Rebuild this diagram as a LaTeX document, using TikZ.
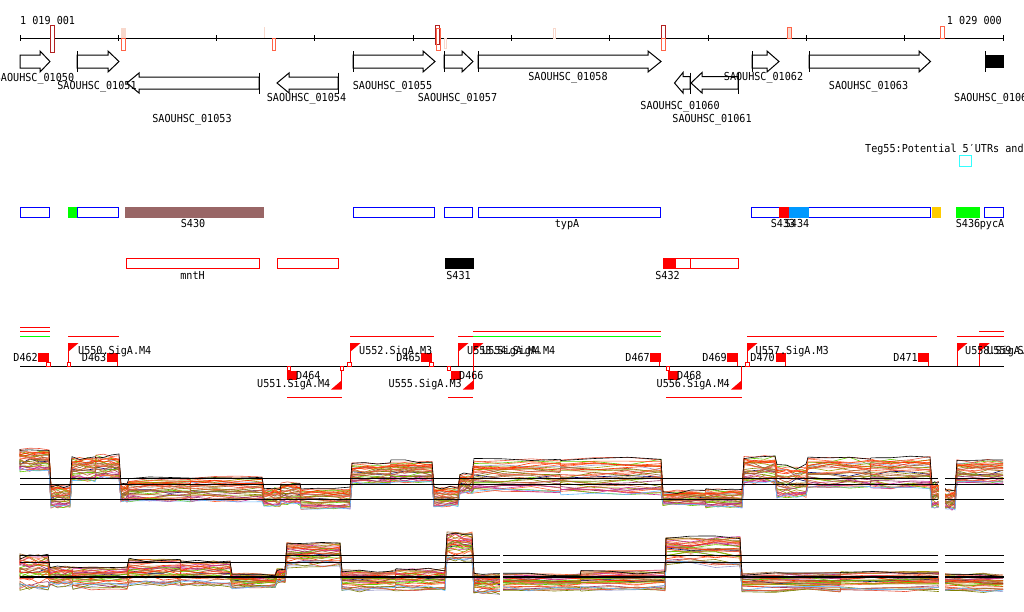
\documentclass[tikz,border=0pt]{standalone}
\usepackage{fontspec}
\setmonofont[FakeStretch=0.92]{DejaVu Sans Mono}
\usetikzlibrary{positioning}
\definecolor{darkred}{HTML}{B22222}
\definecolor{tomato}{HTML}{FF6347}
\definecolor{palepink}{HTML}{F8D8CC}
\definecolor{srnabrown}{HTML}{996666}
\definecolor{srnablue}{HTML}{0099FF}
\definecolor{srnaamber}{HTML}{FFCC00}
\definecolor{srnagreen}{HTML}{00FF00}
\definecolor{tegcyan}{HTML}{33FFFF}
\definecolor{lightblue}{HTML}{66BBFF}
\definecolor{tr1}{HTML}{FF6633}
\definecolor{tr2}{HTML}{999900}
\definecolor{tr3}{HTML}{996633}
\definecolor{tr4}{HTML}{66CC00}
\definecolor{tr5}{HTML}{CC3399}
\definecolor{tr6}{HTML}{000066}
\definecolor{tr7}{HTML}{9999CC}
\definecolor{tr8}{HTML}{E9573F}
\definecolor{tr9}{HTML}{CC6633}
\definecolor{tr10}{HTML}{808000}
\definecolor{tr11}{HTML}{993366}
\definecolor{tr12}{HTML}{FF3300}
\tikzset{
  lbl/.style={font=\ttfamily\fontsize{11}{13}\selectfont, inner sep=0pt},
  genebox/.style={draw=black, fill=white, line width=1pt},
  sbox/.style={draw=blue, fill=white, line width=1pt},
  rbox/.style={draw=red, fill=white, line width=1pt},
  redline/.style={draw=red, line width=1pt},
  termbox/.style={fill=red},
  tsshole/.style={draw=red, fill=white, line width=0.8pt},
  levelline/.style={draw=black, line width=1.2pt}
}
% segments of the two expression panels: x0/x1/top/bottom
\def\panelA{20/49/449/471, 51/70/485/507, 72/95/457/481, 96/119/455/479, 121/127/484/501, 129/190/478/501, 191/262/477/501, 264/280/488/506, 281/300/483/504, 301/350/488/509, 352/390/463/484, 391/432/461/482, 434/458/487/506, 460/472/474/493, 474/560/459/492, 561/661/458/494, 663/705/491/505, 706/742/489/507, 744/775/456/483, 777/806/465/497, 808/870/458/488, 871/930/457/488, 932/940/482/507, 946/955/490/509, 957/1003/460/483}
\def\panelB{20/48/555/591, 50/72/567/587, 73/127/567/589, 129/180/559/587, 181/230/561/587, 232/275/574/588, 277/285/569/583, 287/340/543/567, 342/395/571/591, 396/445/569/591, 447/472/533/562, 474/500/574/594, 503/580/574/591, 581/665/571/591, 666/740/537/567, 742/840/573/592, 841/938/572/591, 945/1003/574/592}
\newcommand{\exprtrace}[5]{%
  \draw[#1, line width=0.6pt] (20,{#3+#2*(#4-#3)})
    \foreach \xa/\xb/\ytop/\ybot in #5 {
      -- (\xa,{\ytop+(\ybot-\ytop)*min(1,max(0,#2+0.1*rand))+1.2*rand})
      -- ({\xa+(\xb-\xa)/3},{\ytop+(\ybot-\ytop)*min(1,max(0,#2+0.1*rand))+1.2*rand})
      -- ({\xa+2*(\xb-\xa)/3},{\ytop+(\ybot-\ytop)*min(1,max(0,#2+0.1*rand))+1.2*rand})
      -- (\xb,{\ytop+(\ybot-\ytop)*min(1,max(0,#2+0.1*rand))+1.2*rand})
    };}

\begin{document}
\begin{tikzpicture}[x=1pt, y=-1pt]
\useasboundingbox (0,0) rectangle (1024,611);
\clip (0,0) rectangle (1024,611);

% Ruler
\draw[line width=1pt] (20,38) -- (1003.3,38);
\foreach \k in {0,...,10}
  \draw[line width=1pt] ({20+98.33*\k},35) -- ({20+98.33*\k},41);
\node[lbl, anchor=base west] (startpos) at (20,24) {1 019 001};
\node[lbl, anchor=base east] (endpos) at (1002,24) {1 029 000};
\draw[darkred, fill=white, line width=1pt] (50.5,25.5) rectangle (54,52);
\draw[palepink, fill=palepink, line width=1pt] (121,28) rectangle (125,38);
\draw[tomato, line width=1pt] (121,38) rectangle (125,50);
\draw[palepink, line width=1.2pt] (264.7,27) -- (264.7,38);
\draw[tomato, line width=1pt] (272.5,38) rectangle (275.5,50);
\draw[darkred, fill=white, line width=1pt] (435.5,25.5) rectangle (439.3,44);
\draw[tomato, line width=1pt] (436.3,28) rectangle (440,50);
\draw[palepink, line width=1pt] (444.3,38.5) rectangle (446,48);
\draw[palepink, line width=1pt] (553.3,28) rectangle (555.5,38);
\draw[darkred, fill=white, line width=1pt] (661.3,25.5) rectangle (665.3,38);
\draw[tomato, line width=1pt] (661.3,38) rectangle (665.3,50);
\draw[tomato, fill=palepink, line width=1pt] (787,27.7) rectangle (791.5,38.5);
\draw[tomato, fill=white, line width=1pt] (940.3,26.5) rectangle (944.7,38);

% Genes, forward strand
\draw[genebox] (20,55) -- (40,55) -- (40,51) -- (50,61.5) -- (40,72) -- (40,68) -- (20,68) -- cycle;
\draw[genebox] (77,55) -- (108,55) -- (108,51) -- (119,61.5) -- (108,72) -- (108,68) -- (77,68) -- cycle;
\draw[genebox] (353,55) -- (423,55) -- (423,51) -- (435,61.5) -- (423,72) -- (423,68) -- (353,68) -- cycle;
\draw[genebox] (444,55) -- (462,55) -- (462,51) -- (473,61.5) -- (462,72) -- (462,68) -- (444,68) -- cycle;
\draw[genebox] (478,55) -- (648,55) -- (648,51) -- (661,61.5) -- (648,72) -- (648,68) -- (478,68) -- cycle;
\draw[genebox] (752,55) -- (767,55) -- (767,51) -- (779,61.5) -- (767,72) -- (767,68) -- (752,68) -- cycle;
\draw[genebox] (809,55) -- (919,55) -- (919,51) -- (930.5,61.5) -- (919,72) -- (919,68) -- (809,68) -- cycle;
\fill[black] (985,55) rectangle (1003.5,68);
\foreach \xs in {77,353,444,478,752,809,985}
  \draw[line width=1pt] (\xs,51) -- (\xs,72);

% Genes, reverse strand
\draw[genebox] (127,83) -- (139,73) -- (139,77) -- (259,77) -- (259,89) -- (139,89) -- (139,93) -- cycle;
\draw[genebox] (277,83) -- (289,73) -- (289,77) -- (338,77) -- (338,89) -- (289,89) -- (289,93) -- cycle;
\draw[genebox] (674.5,83) -- (683,72.5) -- (683,76.5) -- (690,76.5) -- (690,89) -- (683,89) -- (683,93) -- cycle;
\draw[genebox] (691,83) -- (702,72.5) -- (702,76.5) -- (738,76.5) -- (738,89) -- (702,89) -- (702,93) -- cycle;
\foreach \xe in {259,338,690,738}
  \draw[line width=1pt] (\xe,72.5) -- (\xe,93.5);

% Gene labels
\node[lbl, anchor=base] (g01050) at (34.5,81) {SAOUHSC\_01050};
\node[lbl, anchor=base] (g01051) at (97,89) {SAOUHSC\_01051};
\node[lbl, anchor=base] (g01053) at (192,122) {SAOUHSC\_01053};
\node[lbl, anchor=base] (g01054) at (306.5,101) {SAOUHSC\_01054};
\node[lbl, anchor=base] (g01055) at (392.5,89) {SAOUHSC\_01055};
\node[lbl, anchor=base] (g01057) at (457.5,101) {SAOUHSC\_01057};
\node[lbl, anchor=base] (g01058) at (568,80.5) {SAOUHSC\_01058};
\node[lbl, anchor=base] (g01060) at (680,109.5) {SAOUHSC\_01060};
\node[lbl, anchor=base] (g01061) at (712,122.5) {SAOUHSC\_01061};
\node[lbl, anchor=base] (g01062) at (763.5,80.5) {SAOUHSC\_01062};
\node[lbl, anchor=base] (g01063) at (868.5,89) {SAOUHSC\_01063};
\node[lbl, anchor=base west] (g01064) at (954,101) {SAOUHSC\_01064};

% Teg55 track
\node[lbl, anchor=base west] (teg55) at (865,152.7) {Teg55:Potential 5′UTRs and};
\draw[tegcyan, line width=1pt] (959.5,155.5) rectangle (971.5,166);

% sRNA row
\draw[sbox] (20,207.5) rectangle (49.5,217.3);
\fill[srnagreen] (68,207) rectangle (77.3,217.8);
\draw[sbox] (77.3,207.5) rectangle (118.3,217.3);
\fill[srnabrown] (125,207) rectangle (264,217.8);
\draw[sbox] (353.3,207.5) rectangle (434.3,217.3);
\draw[sbox] (444.3,207.5) rectangle (472.3,217.3);
\draw[sbox] (478.3,207.5) rectangle (660.7,217.3);
\draw[sbox] (751.3,207.5) rectangle (930.7,217.3);
\fill[red] (779,207) rectangle (789,217.8);
\fill[srnablue] (789,207) rectangle (809,217.8);
\fill[srnaamber] (931.7,207) rectangle (941,217.8);
\fill[srnagreen] (956,207) rectangle (980,217.8);
\draw[sbox] (984.5,207.5) rectangle (1003.3,217.3);
\node[lbl, anchor=base] (s430) at (193,227.7) {S430};
\node[lbl, anchor=base] (typa) at (567,227.7) {typA};
\node[lbl, anchor=base] (s433) at (783,227.7) {S433};
\node[lbl, anchor=base] (s434) at (797,227.7) {S434};
\node[lbl, anchor=base] (s436) at (968,227.7) {S436};
\node[lbl, anchor=base] (pyca) at (992,227.7) {pycA};

% Second sRNA row
\draw[rbox] (126,258.5) rectangle (259.7,268);
\draw[rbox] (277,258.5) rectangle (338.7,268);
\fill[black] (445,258) rectangle (474,268.5);
\draw[rbox] (675,258.5) rectangle (690.3,268);
\draw[rbox] (690.3,258.5) rectangle (738.5,268);
\fill[red] (663,258) rectangle (675,268.5);
\node[lbl, anchor=base] (mnth) at (192.5,279) {mntH};
\node[lbl, anchor=base] (s431) at (458.5,279) {S431};
\node[lbl, anchor=base] (s432) at (667.5,279) {S432};

% Promoter and terminator track
\draw[line width=1pt] (20,366.3) -- (1003.5,366.3);
\draw[redline] (20,327) -- (49.5,327);
\draw[redline] (20,331) -- (49.5,331);
\draw[srnagreen, line width=1pt] (20,336) -- (49.5,336);
\draw[redline] (68,336) -- (118.5,336);
\draw[redline] (350,336) -- (434,336);
\draw[redline] (458,336) -- (473,336);
\draw[redline] (473,331) -- (661,331);
\draw[srnagreen, line width=1pt] (473,336) -- (661,336);
\draw[redline] (747,336) -- (937,336);
\draw[redline] (956.5,336) -- (1003.5,336);
\draw[redline] (979,331) -- (1003.5,331);
\draw[redline] (287,397.3) -- (341.5,397.3);
\draw[redline] (448,397.3) -- (473.3,397.3);
\draw[redline] (666,397.3) -- (741.5,397.3);

% forward promoters
\foreach \xp in {68,350,458,473,747,957,979.3} {
  \draw[redline] (\xp,366) -- (\xp,343.5);
  \fill[red] (\xp,343) -- ({\xp+10.5},343) -- (\xp,352) -- cycle;
}
% reverse promoters
\foreach \xp in {341.5,473.3,741.5} {
  \draw[redline] (\xp,366) -- (\xp,389);
  \fill[red] (\xp,389.5) -- ({\xp-10.5},389.5) -- (\xp,380.5) -- cycle;
}
% terminators
\fill[termbox] (38.3,353) rectangle (49,362.3);
\fill[termbox] (106.7,353) rectangle (117.7,362.3);
\fill[termbox] (421,353) rectangle (432,362.3);
\fill[termbox] (650,353) rectangle (660.7,362.3);
\fill[termbox] (727,353) rectangle (737.7,362.3);
\fill[termbox] (775.5,353) rectangle (786,362.3);
\fill[termbox] (918,353) rectangle (928.7,362.3);
\fill[termbox] (286.7,370.5) rectangle (296.7,379.5);
\fill[termbox] (451,370.5) rectangle (461,379.5);
\fill[termbox] (667.7,370.5) rectangle (677.7,379.5);
\foreach \xt in {117.2,659.5,737.2,785.5,928.2}
  \draw[redline] (\xt,362) -- (\xt,366);
\foreach \xt in {46.5,67,347.5,429.5,745.5}
  \draw[tsshole] (\xt,362.3) rectangle ({\xt+3.5},366);
\foreach \xt in {287,340,447.5,666.5}
  \draw[tsshole] (\xt,366.5) rectangle ({\xt+3},370);

\node[lbl, anchor=base west] (u550) at (78,354) {U550.SigA.M4};
\node[lbl, anchor=base west] (u552) at (359,354) {U552.SigA.M3};
\node[lbl, anchor=base west] (u553) at (467,354) {U553.SigA.M4};
\node[lbl, anchor=base west] (u554) at (482,354) {U554.SigA.M4};
\node[lbl, anchor=base west] (u557) at (755.5,354) {U557.SigA.M3};
\node[lbl, anchor=base west] (u558) at (965,354) {U558.SigA.M4};
\node[lbl, anchor=base west] (u559) at (987,354) {U559.SigA.M4};
\node[lbl, anchor=base east] (u551) at (330.5,387) {U551.SigA.M4};
\node[lbl, anchor=base east] (u555) at (462,387) {U555.SigA.M3};
\node[lbl, anchor=base east] (u556) at (730,387) {U556.SigA.M4};
\node[lbl, anchor=base east] (d462) at (38,361) {D462};
\node[lbl, anchor=base east] (d463) at (106.5,361) {D463};
\node[lbl, anchor=base east] (d465) at (421,361) {D465};
\node[lbl, anchor=base east] (d467) at (650,361) {D467};
\node[lbl, anchor=base east] (d469) at (727,361) {D469};
\node[lbl, anchor=base east] (d470) at (775,361) {D470};
\node[lbl, anchor=base east] (d471) at (918,361) {D471};
\node[lbl, anchor=base west] (d464) at (296,379) {D464};
\node[lbl, anchor=base west] (d466) at (459,379) {D466};
\node[lbl, anchor=base west] (d468) at (677,379) {D468};

% Expression panels
\pgfmathsetseed{42}
\foreach \c in {tr1,tr2,tr3,tr4,tr5,tr6,tr7,tr8,tr9,tr10,tr11,tr12,
                tr1,tr2,tr3,tr4,tr5,tr8,tr9,tr10,tr11,tr12,
                tr1,tr2,tr4,tr5,tr8,tr9,tr12,tr1,tr3,tr8} {
  \pgfmathsetmacro{\lev}{rnd}
  \exprtrace{\c}{\lev}{449}{471}{\panelA}
  \pgfmathsetmacro{\lev}{rnd}
  \exprtrace{\c}{\lev}{555}{591}{\panelB}
}
\exprtrace{lightblue}{1}{449}{471}{\panelA}
\exprtrace{lightblue}{0.85}{555}{591}{\panelB}
\exprtrace{black}{0}{449}{471}{\panelA}
\exprtrace{black}{0}{555}{591}{\panelB}

\fill[white] (938.5,440) rectangle (945,520);
\fill[white] (500.3,525) rectangle (503,600);
\fill[white] (938.5,525) rectangle (945,600);
\foreach \yl in {478.3,484.3,499.3} {
  \draw[levelline] (20,\yl) -- (938.3,\yl);
  \draw[levelline] (945.3,\yl) -- (1004,\yl);
}
\foreach \yl in {555.3,562.3,577} {
  \draw[levelline] (20,\yl) -- (500,\yl);
  \draw[levelline] (503.3,\yl) -- (938.3,\yl);
  \draw[levelline] (945.3,\yl) -- (1004,\yl);
}

\end{tikzpicture}
\end{document}
